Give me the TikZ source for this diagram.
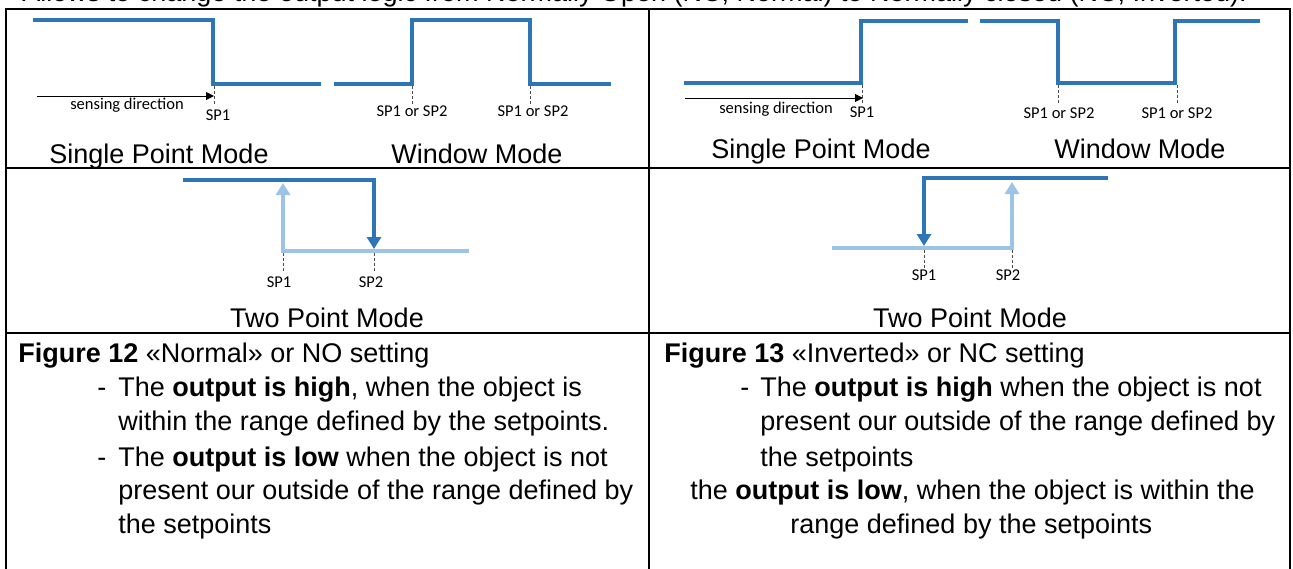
\documentclass[tikz,border=0pt]{standalone}
\usepackage{fontspec}
\setmainfont{Liberation Sans}
\newfontfamily\labelfont{Carlito}
\usetikzlibrary{arrows.meta}
\definecolor{outblue}{HTML}{2E75B6}
\definecolor{outpale}{HTML}{9DC3E6}
\tikzset{
	wave/.style = {outblue, line width = 2pt},
	palewave/.style = {outpale, line width = 2pt},
	cellrule/.style = {line width = 1pt},
	spmark/.style = {gray!60!black, line width = 0.4pt, dash pattern = on 1.5pt off 1pt},
	splabel/.style = {font = \labelfont\fontsize{8.25}{10}\selectfont, inner sep = 0pt},
	bodytext/.style = {font = \fontsize{13.5}{17}\selectfont, inner sep = 0pt, anchor = base west},
	modetitle/.style = {font = \fontsize{13.5}{17}\selectfont, inner sep = 0pt, anchor = base},
	tip/.style = {-{Triangle[length = 6pt, width = 7pt]}}
}
\begin{document}
\begin{tikzpicture}[x = 0.5pt, y = -0.5pt]
			\useasboundingbox (0, 0) rectangle (1293, 568);
			
			% sentence above the table, cut by the page edge
			\node[bodytext] (intro) at (22, 1.5) {Allows to change the output logic from Normally Open (NC, Normal) to Normally closed (NC, Inverted).};
			
			% table rules
			\draw[cellrule] (6, 570) -- (6, 9) -- (1290, 9) -- (1290, 570);
			\draw[cellrule] (649, 9) -- (649, 570);
			\draw[cellrule] (6, 168) -- (1290, 168) (6, 333) -- (1290, 333);
			
			% Normal: single point and window
			\draw[wave] (33, 20) -- (213, 20) -- (213, 84) -- (321, 84);
			\draw[wave] (334, 84) -- (412, 84) -- (412, 20) -- (530, 20) -- (530, 84) -- (611, 84);
			\foreach \x in {214, 412, 530} {
				\draw[spmark] (\x, 86) -- (\x, 104);
			}
			\coordinate (dirstartL) at (37, 96);
			\coordinate (direndL) at (214, 96);
			\draw[-{Triangle[length = 4pt, width = 4pt]}, line width = 0.5pt] (dirstartL) -- (direndL);
			\node[splabel] (dirL) at (127, 105) {sensing direction};
			\node[splabel] (spL) at (218, 115) {SP1};
			\node[splabel] (winLa) at (412, 111) {SP1 or SP2};
			\node[splabel] (winLb) at (533, 111) {SP1 or SP2};
			\node[modetitle] (singleL) at (159, 163) {Single Point Mode};
			\node[modetitle] (windowL) at (477, 163) {Window Mode};
			
			% Inverted: single point and window
			\draw[wave] (684, 83) -- (861, 83) -- (861, 21) -- (968, 21);
			\draw[wave] (980, 21) -- (1058, 21) -- (1058, 83) -- (1175, 83) -- (1175, 21) -- (1260, 21);
			\foreach \x in {862, 1058, 1177} {
				\draw[spmark] (\x, 85) -- (\x, 104);
			}
			\coordinate (dirstartR) at (685, 98);
			\coordinate (direndR) at (863, 98);
			\draw[-{Triangle[length = 4pt, width = 4pt]}, line width = 0.5pt] (dirstartR) -- (direndR);
			\node[splabel] (dirR) at (776, 109) {sensing direction};
			\node[splabel] (spR) at (862, 112) {SP1};
			\node[splabel] (winRa) at (1059, 113) {SP1 or SP2};
			\node[splabel] (winRb) at (1177, 113) {SP1 or SP2};
			\node[modetitle] (singleR) at (821, 158) {Single Point Mode};
			\node[modetitle] (windowR) at (1140, 158) {Window Mode};
			
			% two point, normal
			\draw[palewave, tip] (469, 251) -- (283, 251) -- (283, 183);
			\draw[wave, tip] (183, 180) -- (374, 180) -- (374, 249);
			\foreach \x in {283, 374} {
				\draw[spmark] (\x, 253) -- (\x, 272);
			}
			\node[splabel] (twoLa) at (279, 282) {SP1};
			\node[splabel] (twoLb) at (371, 282) {SP2};
			\node[modetitle] (twoL) at (327, 327) {Two Point Mode};
			
			% two point, inverted
			\draw[palewave, tip] (832, 248) -- (1012, 248) -- (1012, 182);
			\draw[wave, tip] (1108, 178) -- (924, 178) -- (924, 246);
			\foreach \x in {924, 1012} {
				\draw[spmark] (\x, 250) -- (\x, 268);
			}
			\node[splabel] (twoRa) at (924, 275) {SP1};
			\node[splabel] (twoRb) at (1008, 275) {SP2};
			\node[modetitle] (twoR) at (970, 327) {Two Point Mode};
			
			% captions
			\node[bodytext] (capL) at (18, 362) {\textbf{Figure 12} «Normal» or NO setting};
			\node[bodytext] (dashLa) at (97, 396) {-};
			\node[bodytext] (lineLa) at (118, 396) {The \textbf{output is high}, when the object is};
			\node[bodytext] (lineLb) at (118, 430) {within the range defined by the setpoints.};
			\node[bodytext] (dashLb) at (97, 466) {-};
			\node[bodytext] (lineLc) at (118, 466) {The \textbf{output is low} when the object is not};
			\node[bodytext] (lineLd) at (118, 499) {present our outside of the range defined by};
			\node[bodytext] (lineLe) at (118, 533) {the setpoints};
			
			\node[bodytext] (capR) at (664, 362) {\textbf{Figure 13} «Inverted» or NC setting};
			\node[bodytext] (dashRa) at (740, 396) {-};
			\node[bodytext] (lineRa) at (760, 396) {The \textbf{output is high} when the object is not};
			\node[bodytext] (lineRb) at (760, 430) {present our outside of the range defined by};
			\node[bodytext] (lineRc) at (760, 466) {the setpoints};
			\node[bodytext] (lineRd) at (690, 499) {the \textbf{output is low}, when the object is within the};
			\node[bodytext] (lineRe) at (790, 533) {range defined by the setpoints};
\end{tikzpicture}
\end{document}
